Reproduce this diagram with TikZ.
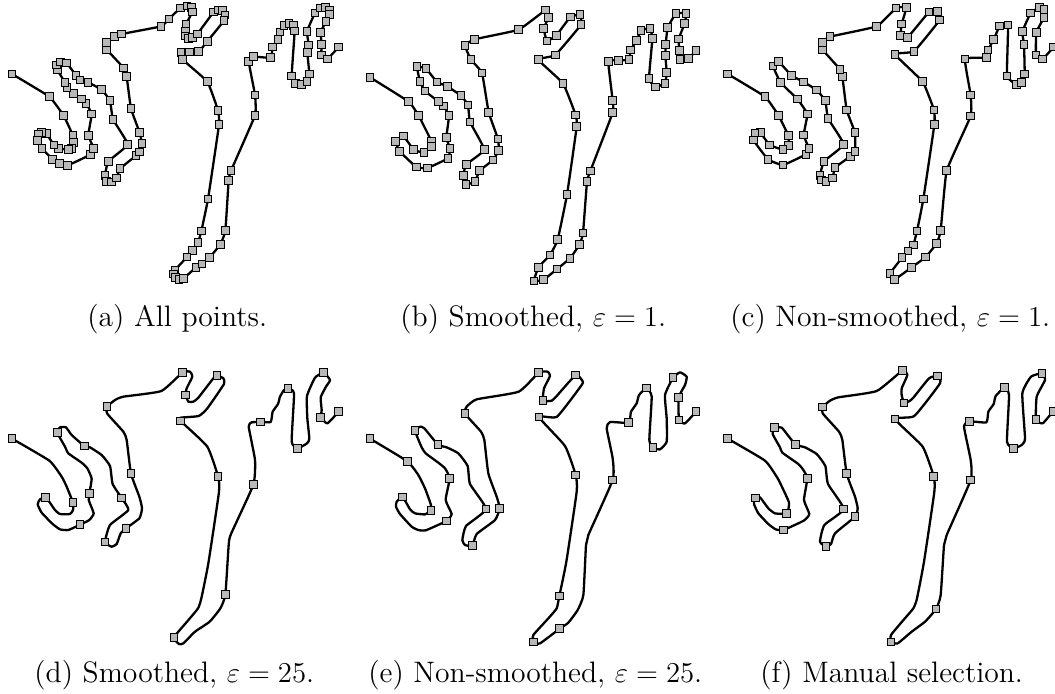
\documentclass[tikz,border=0pt]{standalone}
\tikzset{
  curveline/.style={line width=1.15pt,black,line join=round,line cap=round},
  markbox/.style={draw=black,fill=black!28,line width=0.55pt,minimum size=3.8pt,inner sep=0pt,outer sep=0pt,rectangle},
  captiontext/.style={anchor=base west,inner sep=0pt,font=\fontsize{14.8}{17}\selectfont}
}
\newcommand{\pcurve}[4]{%
  \begin{scope}[xshift=#1*0.5pt,yshift=-#2*0.5pt,x=0.16667pt,y=-0.16667pt]
  \gdef\acc{}%
  \edef\mylist{#4}%
  \foreach \p in \mylist {\xdef\acc{\acc \p\space}}%
  \edef\tmp{\noexpand\draw[curveline] plot[smooth,tension=#3] coordinates {\acc};}\tmp
  \end{scope}}
\newcommand{\pmarks}[3]{%
  \begin{scope}[xshift=#1*0.5pt,yshift=-#2*0.5pt,x=0.16667pt,y=-0.16667pt]
  \edef\mylist{#3}%
  \foreach \p in \mylist {\node[markbox] at \p {};}
  \end{scope}}
\def\lista{(36,222),(148,290),(191,347),(219,407),(221,427),(215,445),(206,449),(176,445),(162,435),(139,401),(125,397),(115,402),(113,421),(126,446),(158,478),(178,491),(203,496),(271,464),(281,445),(265,406),(275,342),(258,310),(245,297),(221,280),(201,263),(195,247),(172,210),(170,195),(182,186),(200,189),(228,226),(240,240),(264,247),(305,269),(330,302),(339,358),(383,433),(325,484),(315,526),(320,545),(335,546),(350,534),(360,506),(408,467),(418,456),(426,431),(419,398),(393,326),(380,230),(371,204),(320,148),(320,127),(343,110),(365,102),(483,79),(507,57),(541,24),(561,18),(575,22),(577,36),(558,73),(556,95),(556,108),(565,115),(578,113),(592,102),(641,36),(655,30),(668,32),(675,45),(672,62),(622,124),(596,155),(568,156),(543,157),(547,178),(622,245),(654,331),(657,374),(624,597),(604,693),(594,728),(577,752),(561,771),(525,810),(520,822),(527,833),(537,838),(550,836),(588,802),(606,792),(629,772),(661,733),(676,692),(686,541),(693,512),(765,346),(765,285),(746,184),(761,170),(812,173),(818,141),(834,118),(840,96),(852,76),(867,70),(880,76),(884,93),(875,228),(886,250),(905,254),(921,244),(928,222),(922,158),(926,135),(921,94),(945,39),(960,24),(977,22),(988,30),(989,44),(978,64),(962,97),(965,134),(964,165),(982,177),(1016,141)}
\def\listb{(45,232),(161,305),(191,347),(229,423),(229,440),(207,458),(176,449),(145,408),(122,424),(134,454),(184,501),(217,504),(279,475),(285,445),(274,413),(282,347),(266,318),(251,305),(210,273),(195,244),(186,200),(213,206),(246,246),(277,259),(318,287),(339,315),(345,366),(388,449),(334,493),(325,526),(333,554),(360,544),(374,512),(414,480),(431,451),(429,417),(401,337),(381,219),(348,179),(330,137),(358,118),(491,89),(572,30),(581,52),(566,85),(576,123),(604,106),(646,51),(675,44),(678,74),(601,165),(550,179),(624,250),(662,345),(665,380),(636,584),(608,719),(585,765),(550,802),(537,843),(566,839),(606,807),(645,775),(674,733),(684,699),(696,545),(706,513),(773,338),(773,302),(760,185),(790,181),(822,179),(827,150),(845,121),(858,91),(885,85),(892,116),(882,236),(901,261),(930,250),(935,218),(931,166),(932,133),(938,83),(963,40),(993,41),(989,70),(971,117),(973,151),(975,178),(1001,176),(1023,151)}
\def\listc{(68,222),(180,290),(221,347),(250,407),(251,437),(234,449),(194,435),(166,398),(150,399),(145,420),(189,478),(234,495),(303,463),(312,446),(296,405),(307,342),(277,297),(227,248),(204,198),(221,185),(259,226),(296,246),(335,270),(361,302),(369,355),(416,433),(357,484),(345,526),(350,540),(363,545),(383,534),(390,503),(436,469),(450,455),(450,398),(425,330),(412,229),(405,208),(352,148),(352,128),(375,110),(515,79),(573,24),(604,22),(590,72),(587,107),(608,112),(672,36),(698,35),(704,60),(627,154),(570,163),(653,245),(687,330),(688,374),(655,597),(636,693),(625,735),(609,753),(591,773),(555,821),(569,838),(620,802),(662,771),(695,730),(707,692),(725,512),(797,348),(797,285),(780,177),(844,173),(849,150),(866,119),(884,78),(909,75),(906,228),(935,254),(950,248),(959,222),(957,134),(952,95),(977,39),(1004,22),(1017,28),(1017,52),(994,97),(993,165),(1013,177),(1046,141)}
\begin{document}
\begin{tikzpicture}
\path[use as bounding box,clip] (0,0) rectangle (527.5pt,-346.5pt);
% (a)
\pcurve{0}{0}{0.2}{\lista}
\pmarks{0}{0}{\lista}
% (b)
\pcurve{355}{0}{0.2}{\listb}
\pmarks{355}{0}{\listb}
% (c)
\pcurve{705}{0}{0.2}{\listc}
\pmarks{705}{0}{\listc}
% (d)
\pcurve{0}{360}{0.28}{(36,236),(148,302),(185,350),(200,380),(219,428),(219,450),(210,462),(180,462),(165,450),(147,424),(136,413),(120,418),(113,433),(125,458),(158,492),(180,508),(205,510),(240,494),(268,480),(281,460),(266,420),(268,400),(275,356),(262,325),(245,308),(205,280),(195,260),(172,218),(180,202),(198,202),(215,225),(253,258),(270,262),(305,285),(330,318),(338,372),(365,414),(385,450),(330,495),(315,546),(335,560),(350,552),(362,520),(378,505),(418,475),(426,445),(418,410),(393,341),(380,240),(370,215),(321,160),(321,140),(345,120),(370,110),(484,93),(548,37),(570,35),(577,50),(560,85),(557,105),(565,125),(580,125),(595,113),(640,55),(651,46),(670,55),(672,72),(622,145),(596,168),(542,173),(542,183),(622,260),(654,349),(657,395),(625,610),(604,715),(594,745),(561,785),(522,832),(537,852),(550,850),(585,815),(629,785),(661,745),(676,704),(686,555),(693,522),(760,374),(765,300),(746,200),(755,187),(782,186),(812,186),(818,155),(834,132),(840,110),(852,90),(864,85),(882,100),(875,245),(893,265),(921,250),(928,236),(922,175),(921,108),(945,53),(971,38),(990,60),(978,80),(962,112),(965,150),(963,172),(982,190),(1016,155)}
\pmarks{0}{360}{(36,236),(172,218),(253,258),(219,428),(136,413),(268,400),(240,494),(365,414),(393,341),(378,505),(315,546),(321,140),(548,37),(557,105),(651,46),(542,183),(654,349),(522,832),(676,704),(760,374),(782,186),(864,85),(893,265),(971,38),(962,172),(1016,155)}
% (e)
\pcurve{355}{360}{0.28}{(45,236),(157,304),(190,345),(210,385),(228,435),(228,451),(210,463),(180,460),(165,448),(143,411),(125,425),(123,440),(135,462),(170,500),(190,510),(212,511),(274,483),(290,462),(272,420),(284,355),(270,325),(250,308),(212,280),(200,262),(180,212),(195,200),(208,205),(249,254),(275,262),(310,280),(338,318),(345,372),(393,447),(333,498),(322,540),(330,555),(352,557),(365,522),(420,480),(434,445),(425,410),(400,340),(388,240),(378,215),(330,161),(335,140),(365,118),(491,95),(551,38),(578,35),(585,48),(567,85),(564,122),(590,122),(605,108),(662,45),(682,62),(680,75),(606,170),(552,171),(630,258),(662,345),(665,395),(634,605),(613,708),(605,745),(580,775),(535,825),(536,846),(555,850),(614,806),(640,788),(668,750),(685,705),(693,555),(700,525),(773,360),(773,295),(755,205),(765,186),(821,188),(828,155),(845,130),(852,105),(875,84),(890,110),(883,240),(894,263),(915,268),(935,245),(935,175),(930,105),(954,53),(975,37),(995,50),(990,75),(971,112),(972,180),(990,190),(1023,155)}
\pmarks{355}{360}{(45,236),(157,304),(228,451),(143,411),(284,355),(274,483),(180,212),(249,254),(393,447),(352,557),(434,445),(330,161),(551,38),(564,122),(662,45),(552,171),(662,345),(613,708),(536,846),(614,806),(773,360),(821,188),(875,84),(894,263),(954,53),(971,112),(972,180),(1023,155)}
% (f)
\pcurve{705}{360}{0.28}{(68,236),(180,302),(218,355),(233,385),(252,428),(246,460),(210,460),(190,445),(165,412),(150,414),(147,432),(160,460),(190,492),(212,508),(235,510),(296,482),(313,462),(297,420),(307,355),(295,330),(280,312),(232,278),(225,262),(203,222),(209,203),(230,203),(248,225),(272,254),(300,262),(335,282),(361,318),(369,372),(416,447),(358,495),(345,545),(363,560),(378,552),(390,520),(450,470),(458,445),(450,410),(425,341),(412,240),(402,215),(353,160),(353,141),(375,122),(400,112),(515,93),(592,32),(607,45),(590,85),(590,105),(597,129),(612,124),(625,113),(672,55),(698,48),(705,70),(628,168),(570,177),(653,260),(686,349),(688,395),(657,605),(636,715),(625,745),(591,785),(558,825),(558,846),(578,850),(620,815),(660,785),(693,747),(707,705),(717,555),(725,525),(797,360),(797,300),(777,200),(793,184),(844,187),(850,155),(866,132),(872,108),(898,83),(912,105),(906,245),(925,265),(950,255),(960,235),(952,100),(978,50),(1011,40),(1020,60),(995,110),(993,179),(1013,190),(1045,154),(1060,154)}
\pmarks{705}{360}{(68,236),(272,254),(209,203),(245,460),(151,414),(307,355),(235,510),(416,447),(363,560),(450,470),(424,341),(353,141),(592,32),(597,129),(698,48),(570,177),(686,349),(558,846),(693,747),(797,360),(793,184),(898,83),(925,265),(1011,40),(993,179),(1045,154)}
% captions
\node[captiontext] (capa) at (43.5pt,-163pt) {(a) All points.};
\node[captiontext] (capb) at (200pt,-163pt) {(b) Smoothed, $\varepsilon=1$.};
\node[captiontext] (capc) at (365pt,-163pt) {(c) Non-smoothed, $\varepsilon=1$.};
\node[captiontext] (capd) at (17pt,-341.3pt) {(d) Smoothed, $\varepsilon=25$.};
\node[captiontext] (cape) at (184pt,-341.3pt) {(e) Non-smoothed, $\varepsilon=25$.};
\node[captiontext] (capf) at (380pt,-341.3pt) {(f) Manual selection.};
\end{tikzpicture}
\end{document}
